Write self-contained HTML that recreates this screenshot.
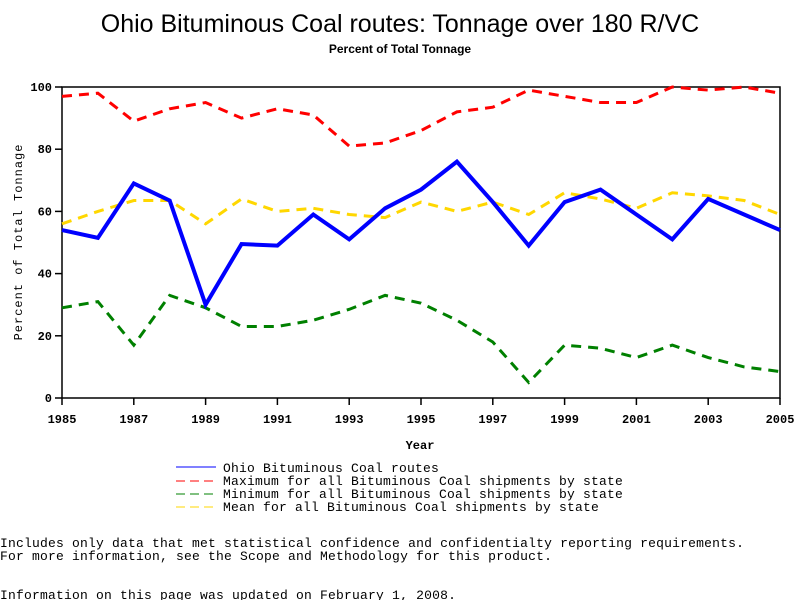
<!DOCTYPE html>
<html><head><meta charset="utf-8"><style>
body{margin:0;background:#fff;width:800px;height:600px;overflow:hidden}
svg text{font-family:"Liberation Mono",monospace;fill:#000}
</style></head><body>
<svg width="800" height="600" xmlns="http://www.w3.org/2000/svg">
<text x="400" y="32" text-anchor="middle" style="font-family:'Liberation Sans',sans-serif;font-size:25px">Ohio Bituminous Coal routes: Tonnage over 180 R/VC</text>
<text x="400" y="53" text-anchor="middle" style="font-family:'Liberation Sans',sans-serif;font-size:12px;font-weight:bold">Percent of Total Tonnage</text>
<rect x="62" y="87" width="718" height="311" fill="none" stroke="#000" stroke-width="1.5"/>
<g id="ticks" stroke="#000" stroke-width="1.5"></g>
<g id="labels" font-size="12" font-weight="bold"></g>
<text x="420" y="449" text-anchor="middle" font-size="12" font-weight="bold">Year</text>
<text transform="translate(22,242) rotate(-90)" text-anchor="middle" font-size="12" letter-spacing="1">Percent of Total Tonnage</text>
<g id="series" fill="none"></g>
<g font-size="13" letter-spacing="0.2">
<line x1="176" y1="467" x2="216" y2="467" stroke="#00f"/>
<line x1="176" y1="481" x2="216" y2="481" stroke="#f00" stroke-dasharray="9,5"/>
<line x1="176" y1="494" x2="216" y2="494" stroke="#008000" stroke-dasharray="9,5"/>
<line x1="176" y1="507" x2="216" y2="507" stroke="#ffd700" stroke-dasharray="9,5"/>
<text x="223" y="472">Ohio Bituminous Coal routes</text>
<text x="223" y="485">Maximum for all Bituminous Coal shipments by state</text>
<text x="223" y="498">Minimum for all Bituminous Coal shipments by state</text>
<text x="223" y="511">Mean for all Bituminous Coal shipments by state</text>
</g>
<g font-size="13" letter-spacing="0.2">
<text x="0" y="547">Includes only data that met statistical confidence and confidentialty reporting requirements.</text>
<text x="0" y="560">For more information, see the Scope and Methodology for this product.</text>
<text x="0" y="599">Information on this page was updated on February 1, 2008.</text>
</g>
</svg>
<script>
const X=i=>62+i*35.9, Y=v=>398-3.11*v;
let t='',l='';
for(let i=0;i<=20;i+=2){t+=`<line x1="${X(i)}" y1="398" x2="${X(i)}" y2="405"/>`;l+=`<text x="${X(i)}" y="423" text-anchor="middle">${1985+i}</text>`;}
for(let v=0;v<=100;v+=20){t+=`<line x1="55" y1="${Y(v)}" x2="62" y2="${Y(v)}"/>`;l+=`<text x="52" y="${Y(v)+4}" text-anchor="end">${v}</text>`;}
document.getElementById('ticks').innerHTML=t;document.getElementById('labels').innerHTML=l;
const S=[
['#f00',3,'10,7',[97,98,89,93,95,90,93,91,81,82,86,92,93.5,99,97,95,95,100,99,100,98]],
['#008000',3,'10,7',[29,31,17,33,29,23,23,25,28.5,33,30.5,25,18,5,17,16,13,17,13,10,8.5]],
['#ffd700',3,'10,7',[56,60,63.5,63.5,56,64,60,61,59,58,63,60,63,59,66,64,61,66,65,63.5,59]],
['#00f',4,'',[54,51.5,69,63.5,30,49.5,49,59,51,61,67,76,63,49,63,67,59,51,64,59,54]]];
let s='';
for(const [c,w,d,a] of S){s+=`<polyline stroke="${c}" stroke-width="${w}" ${d?`stroke-dasharray="${d}"`:''} points="${a.map((v,i)=>X(i)+','+Y(v)).join(' ')}"/>`;}
document.getElementById('series').innerHTML=s;
</script>
</body></html>
